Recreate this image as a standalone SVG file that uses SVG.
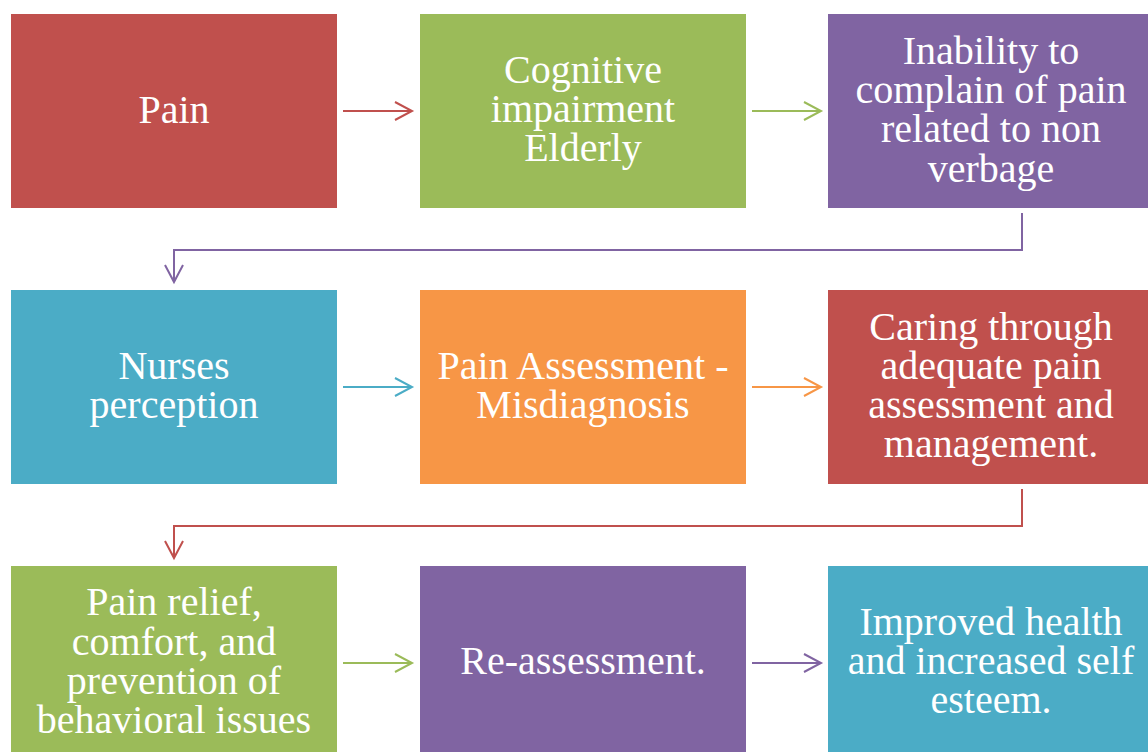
<svg xmlns="http://www.w3.org/2000/svg" width="1148" height="752" viewBox="0 0 1148 752">
<defs>
<style>
.t{font-family:"Liberation Serif","Times New Roman",serif;font-size:40px;fill:#fff;text-anchor:middle}
.c{fill:none;stroke-width:2}
</style>
<marker id="ared" markerWidth="22" markerHeight="22" refX="18" refY="10" orient="auto" markerUnits="userSpaceOnUse"><path d="M1,1 L18,10 L1,19" fill="none" stroke="#C0504D" stroke-width="2"/></marker>
<marker id="agr" markerWidth="22" markerHeight="22" refX="18" refY="10" orient="auto" markerUnits="userSpaceOnUse"><path d="M1,1 L18,10 L1,19" fill="none" stroke="#9BBB59" stroke-width="2"/></marker>
<marker id="apu" markerWidth="22" markerHeight="22" refX="18" refY="10" orient="auto" markerUnits="userSpaceOnUse"><path d="M1,1 L18,10 L1,19" fill="none" stroke="#8064A2" stroke-width="2"/></marker>
<marker id="ate" markerWidth="22" markerHeight="22" refX="18" refY="10" orient="auto" markerUnits="userSpaceOnUse"><path d="M1,1 L18,10 L1,19" fill="none" stroke="#4BACC6" stroke-width="2"/></marker>
<marker id="aor" markerWidth="22" markerHeight="22" refX="18" refY="10" orient="auto" markerUnits="userSpaceOnUse"><path d="M1,1 L18,10 L1,19" fill="none" stroke="#F79646" stroke-width="2"/></marker>
</defs>
<rect width="1148" height="752" fill="#fff"/>
<g id="n1"><rect x="11" y="14" width="326" height="194" fill="#C0504D"/><text class="t" x="174" y="123">Pain</text></g>
<g id="n2"><rect x="420" y="14" width="326" height="194" fill="#9BBB59"/><text class="t"><tspan x="583" y="83">Cognitive</tspan><tspan x="583" y="122">impairment</tspan><tspan x="583" y="161">Elderly</tspan></text></g>
<g id="n3"><rect x="828" y="14" width="326" height="194" fill="#8064A2"/><text class="t"><tspan x="991" y="64">Inability to</tspan><tspan x="991" y="103">complain of pain</tspan><tspan x="991" y="142">related to non</tspan><tspan x="991" y="182">verbage</tspan></text></g>
<g id="n4"><rect x="11" y="290" width="326" height="194" fill="#4BACC6"/><text class="t"><tspan x="174" y="379">Nurses</tspan><tspan x="174" y="418">perception</tspan></text></g>
<g id="n5"><rect x="420" y="290" width="326" height="194" fill="#F79646"/><text class="t"><tspan x="583" y="379">Pain Assessment -</tspan><tspan x="583" y="418">Misdiagnosis</tspan></text></g>
<g id="n6"><rect x="828" y="290" width="326" height="194" fill="#C0504D"/><text class="t"><tspan x="991" y="340">Caring through</tspan><tspan x="991" y="379">adequate pain</tspan><tspan x="991" y="418">assessment and</tspan><tspan x="991" y="457">management.</tspan></text></g>
<g id="n7"><rect x="11" y="566" width="326" height="194" fill="#9BBB59"/><text class="t"><tspan x="174" y="615">Pain relief,</tspan><tspan x="174" y="655">comfort, and</tspan><tspan x="174" y="694">prevention of</tspan><tspan x="174" y="733">behavioral issues</tspan></text></g>
<g id="n8"><rect x="420" y="566" width="326" height="194" fill="#8064A2"/><text class="t" x="583" y="674">Re-assessment.</text></g>
<g id="n9"><rect x="828" y="566" width="326" height="194" fill="#4BACC6"/><text class="t"><tspan x="991" y="635">Improved health</tspan><tspan x="991" y="674">and increased self</tspan><tspan x="991" y="713">esteem.</tspan></text></g>
<g id="connectors">
<path class="c" stroke="#C0504D" d="M343,111 H412" marker-end="url(#ared)"/>
<path class="c" stroke="#9BBB59" d="M752,111 H821" marker-end="url(#agr)"/>
<path class="c" stroke="#8064A2" d="M1022,213 V250 H174 V282" marker-end="url(#apu)"/>
<path class="c" stroke="#4BACC6" d="M343,387 H412" marker-end="url(#ate)"/>
<path class="c" stroke="#F79646" d="M752,387 H821" marker-end="url(#aor)"/>
<path class="c" stroke="#C0504D" d="M1022,489 V526 H174 V558" marker-end="url(#ared)"/>
<path class="c" stroke="#9BBB59" d="M343,663 H412" marker-end="url(#agr)"/>
<path class="c" stroke="#8064A2" d="M752,663 H821" marker-end="url(#apu)"/>
</g>
</svg>
